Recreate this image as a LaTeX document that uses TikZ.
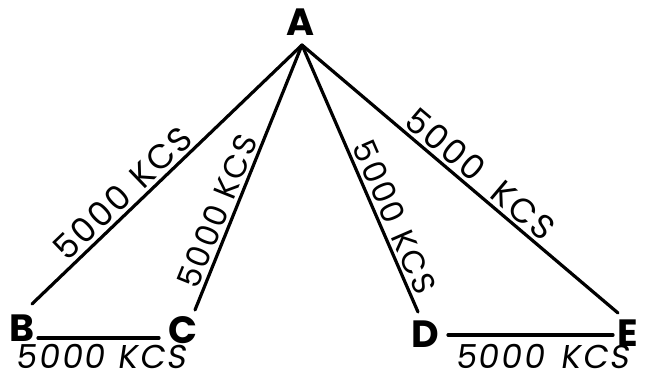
\documentclass[tikz,border=0pt]{standalone}
\usepackage{fontspec}
\setmainfont{Poppins}
\newfontfamily\labfont[LetterSpace=6]{Poppins}
\begin{document}
\begin{tikzpicture}[x=1pt,y=-1pt,
  wire/.style={line width=3.2pt, line cap=round},
  letter/.style={font=\fontsize{38}{38}\selectfont\bfseries, inner sep=0pt},
  lab/.style={font=\fontsize{34}{34}\labfont, inner sep=1pt},
  slab/.style={font=\fontsize{32}{32}\labfont, inner sep=1pt},
  blab/.style={font=\fontsize{33}{33}\labfont, inner sep=0pt, xslant=0.15, anchor=base}]
\useasboundingbox (0,0) rectangle (648,374);
% letters
\node[letter] (A) at (300,22) {A};
\node[letter] (B) at (22,328) {B};
\node[letter] (C) at (183,330) {C};
\node[letter] (D) at (425,334) {D};
\node[letter] (E) at (628,333) {E};
% line ends
\coordinate (a) at (302,45);
\coordinate (b1) at (32,304);
\coordinate (c1) at (195,310);
\coordinate (d1) at (418,312);
\coordinate (e1) at (618,313);
\coordinate (bc1) at (38,338);
\coordinate (bc2) at (159,338);
\coordinate (de1) at (448,335);
\coordinate (de2) at (613,335);
% connectors
\draw[wire] (b1) -- node[lab, sloped, above=2pt, pos=0.38] {5000\hspace{0.4em}KCS} (a);
\draw[wire] (c1) -- node[slab, sloped, above=2pt, pos=0.35] {5000\hspace{0.3em}KCS} (a);
\draw[wire] (a) -- node[slab, sloped, above=2pt, pos=0.67] {5000\hspace{0.35em}KCS} (d1);
\draw[wire] (a) -- node[lab, sloped, above=2pt, pos=0.53] {5000\hspace{0.6em}KCS} (e1);
\draw[wire] (bc1) -- (bc2);
\draw[wire] (de1) -- (de2);
% bottom labels
\node[blab] (lbc) at (101,368) {5000\hspace{0.4em}KCS};
\node[blab] (lde) at (542,368) {5000\hspace{0.5em}KCS};
\end{tikzpicture}
\end{document}
